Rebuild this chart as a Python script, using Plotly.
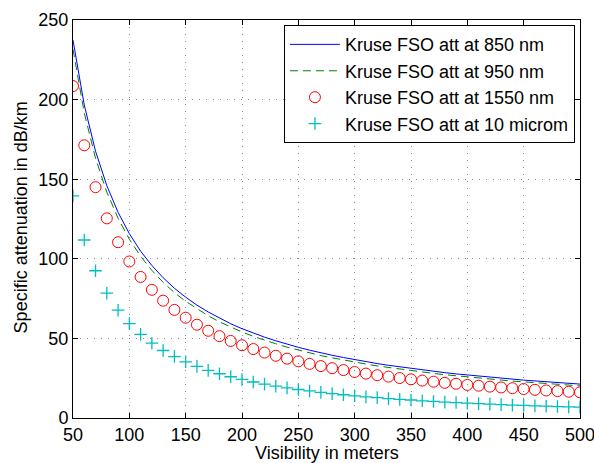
import plotly.graph_objects as go

visibility_m = [50, 60, 70, 80, 90, 100, 110, 120, 130, 140, 150, 160, 170, 180, 190,
                200, 210, 220, 230, 240, 250, 260, 270, 280, 290, 300, 310, 320, 330,
                340, 350, 360, 370, 380, 390, 400, 410, 420, 430, 440, 450, 460, 470,
                480, 490, 500]

att_850nm = [237.3, 196.6, 167.6, 146.0, 129.2, 115.8, 104.8, 95.8, 88.1, 81.5, 75.9,
             70.9, 66.6, 62.7, 59.2, 56.1, 53.3, 50.8, 48.5, 46.3, 44.4, 42.6, 40.9,
             39.4, 38.0, 36.6, 35.4, 34.2, 33.1, 32.1, 31.1, 30.2, 29.3, 28.5, 27.7,
             27.0, 26.3, 25.6, 25.0, 24.4, 23.8, 23.3, 22.7, 22.2, 21.8, 21.3]

att_950nm = [231.6, 191.6, 163.2, 141.9, 125.5, 112.3, 101.6, 92.7, 85.2, 78.8, 73.3,
             68.5, 64.2, 60.4, 57.1, 54.0, 51.3, 48.8, 46.6, 44.5, 42.6, 40.9, 39.2,
             37.8, 36.4, 35.1, 33.9, 32.7, 31.7, 30.7, 29.7, 28.8, 28.0, 27.2, 26.5,
             25.7, 25.1, 24.4, 23.8, 23.2, 22.7, 22.1, 21.6, 21.1, 20.7, 20.2]

att_1550nm = [208.5, 171.3, 145.0, 125.4, 110.4, 98.3, 88.6, 80.5, 73.7, 67.9, 63.0,
              58.6, 54.8, 51.4, 48.4, 45.7, 43.3, 41.1, 39.1, 37.3, 35.6, 34.0, 32.6,
              31.3, 30.1, 28.9, 27.9, 26.9, 26.0, 25.1, 24.3, 23.5, 22.8, 22.1, 21.5,
              20.8, 20.3, 19.7, 19.2, 18.7, 18.2, 17.7, 17.3, 16.9, 16.5, 16.1]

att_10um = [139.5, 111.8, 92.5, 78.4, 67.7, 59.3, 52.5, 47.0, 42.4, 38.6, 35.3, 32.4,
            29.9, 27.8, 25.9, 24.2, 22.6, 21.3, 20.0, 18.9, 17.9, 17.0, 16.1, 15.3,
            14.6, 13.9, 13.3, 12.8, 12.2, 11.7, 11.3, 10.8, 10.4, 10.0, 9.7, 9.3, 9.0,
            8.7, 8.4, 8.1, 7.9, 7.6, 7.4, 7.2, 7.0, 6.8]

x_ticks = [50, 100, 150, 200, 250, 300, 350, 400, 450, 500]
y_ticks = [0, 50, 100, 150, 200, 250]

FONT = "Liberation Sans, Arial, Helvetica, sans-serif"

fig = go.Figure()
fig.add_trace(go.Scatter(x=visibility_m, y=att_850nm, mode="lines",
                         name="Kruse FSO att at 850 nm",
                         line=dict(color="#0000ff", width=1)))
fig.add_trace(go.Scatter(x=visibility_m, y=att_950nm, mode="lines",
                         name="Kruse FSO att at 950 nm",
                         line=dict(color="#008000", width=1, dash="8px,5px")))
fig.add_trace(go.Scatter(x=visibility_m, y=att_1550nm, mode="markers",
                         name="Kruse FSO att at 1550 nm",
                         marker=dict(symbol="circle-open", size=11, color="#ff0000",
                                     line=dict(width=1, color="#ff0000"))))
fig.add_trace(go.Scatter(x=visibility_m, y=att_10um, mode="markers",
                         name="Kruse FSO att at 10 microm",
                         marker=dict(symbol="cross-thin-open", size=9, color="#00bfbf",
                                     line=dict(width=1.3, color="#00bfbf"))))

axis_common = dict(showline=True, linecolor="black", linewidth=1, mirror="ticks",
                   ticks="inside", ticklen=5, tickcolor="black",
                   showgrid=True, gridcolor="#8a8a8a", griddash="1px,6px", gridwidth=1.3,
                   zeroline=False, ticklabeloverflow="allow", automargin=False,
                   tickfont=dict(family=FONT, size=18, color="black"))

fig.update_xaxes(range=[50, 500], tickvals=x_ticks, **axis_common)
fig.update_yaxes(range=[0, 250], tickvals=y_ticks, **axis_common)

fig.update_layout(
    width=594, height=463,
    margin=dict(l=73, r=14, t=20, b=45, autoexpand=False),
    paper_bgcolor="white", plot_bgcolor="white",
    font=dict(family=FONT, size=18, color="black"),
    showlegend=True,
    legend=dict(x=0.990, y=0.987, xanchor="right", yanchor="top",
                bgcolor="white", bordercolor="black", borderwidth=1,
                font=dict(family=FONT, size=18, color="black"),
                itemwidth=50, tracegroupgap=0),
    annotations=[
        dict(text="Visibility in meters", xref="paper", yref="paper",
             x=0.5, y=-0.088, xanchor="center", yanchor="middle",
             showarrow=False, font=dict(family=FONT, size=18, color="black")),
        dict(text="Specific attenuation in dB/km", xref="paper", yref="paper",
             x=-0.1026, y=0.504, xanchor="center", yanchor="middle", textangle=-90,
             showarrow=False, font=dict(family=FONT, size=18, color="black")),
    ],
)

fig.write_html("out.html")
